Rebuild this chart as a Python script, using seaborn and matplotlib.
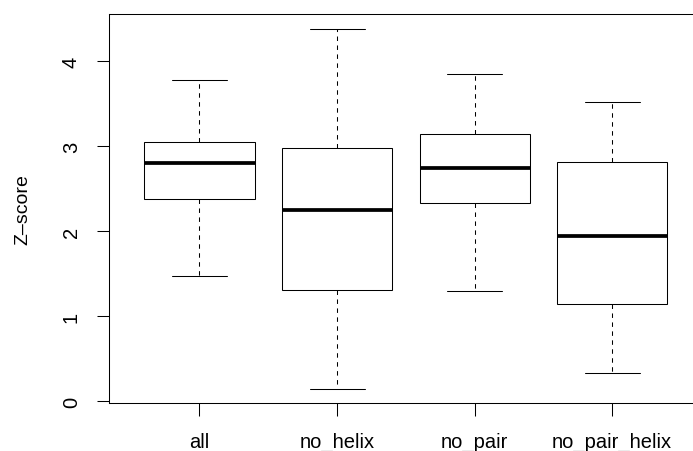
import matplotlib
matplotlib.use("Agg")
import matplotlib.pyplot as plt
import seaborn as sns
import pandas as pd

categories = ["all", "no_helix", "no_pair", "no_pair_helix"]
# five-number summaries: lower whisker, Q1, median, Q3, upper whisker
whisker_low = [1.47, 0.15, 1.30, 0.33]
q1 = [2.38, 1.31, 2.33, 1.15]
median = [2.80, 2.25, 2.74, 1.94]
q3 = [3.05, 2.98, 3.14, 2.82]
whisker_high = [3.78, 4.38, 3.85, 3.52]
yticks = [0, 1, 2, 3, 4]

rows = []
for i, c in enumerate(categories):
    for v in (whisker_low[i], q1[i], median[i], q3[i], whisker_high[i]):
        rows.append({"group": c, "z": v})
df = pd.DataFrame(rows)

sns.set_style("ticks")
plt.rcParams["font.family"] = ["Liberation Sans", "DejaVu Sans"]
plt.rcParams["text.color"] = "black"
plt.rcParams["xtick.color"] = "black"
plt.rcParams["ytick.color"] = "black"
plt.rcParams["axes.labelcolor"] = "black"

W, H = 693, 452
fig = plt.figure(figsize=(W / 100, H / 100), dpi=100)
left, right, top, bottom = 108.7, 703.0, 15.3, 403.7
ax = fig.add_axes([left / W, 1 - bottom / H, (right - left) / W, (bottom - top) / H])

sns.boxplot(data=df, x="group", y="z", order=categories, ax=ax,
            whis=(0, 100), width=0.8, color="white", linecolor="black",
            saturation=1, linewidth=0.75,
            medianprops=dict(linewidth=2.7, color="black", solid_capstyle="butt"),
            whiskerprops=dict(linestyle=(0, (4.3, 4.3)), linewidth=0.75, color="black"),
            capprops=dict(linewidth=0.75, color="black"),
            boxprops=dict(linewidth=0.75, edgecolor="black"))

FS = 14.5
ax.set_xlim(-0.66, 3.66)
ax.set_ylim(-0.016, 4.553)
ax.set_yticks(yticks)
ax.set_yticklabels([str(t) for t in yticks], rotation=90, va="center")
ax.set_xlabel("")
ax.set_ylabel("Z–score", fontsize=14, va="center")
ax.yaxis.set_label_coords((23.0 - left) / (right - left), 0.5)

for name, s in ax.spines.items():
    s.set_visible(name != "right")
    s.set_linewidth(0.75)
    s.set_color("black")
ax.tick_params(axis="both", length=9, width=0.75, color="black", labelcolor="black",
               labelsize=FS, direction="out")
ax.tick_params(axis="y", pad=11)
ax.tick_params(axis="x", pad=12)

fig.savefig("out.png", dpi=100)
